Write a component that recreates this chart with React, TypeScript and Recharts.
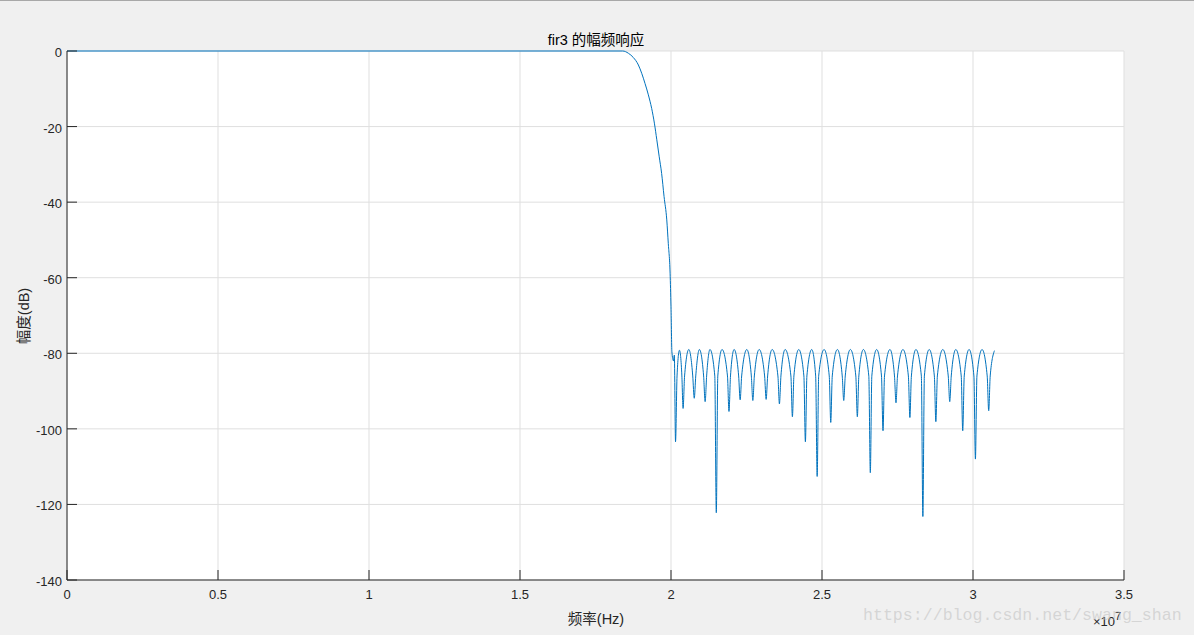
import { LineChart, Line, XAxis, YAxis, CartesianGrid } from "recharts";

// frequency (Hz) and magnitude (dB)
const freqHz = [
  0, 1.84e7, 1.859e7, 1.875e7, 1.892e7, 1.903e7, 1.914e7, 1.925e7, 1.936e7, 1.945e7,
  1.953e7, 1.961e7, 1.969e7, 1.977e7, 1.986e7, 1.991e7, 1.997e7, 2.0e7, 2.003e7,
  2.008e7, 2.011e7, 2.015e7, 2.02e7, 2.028e7, 2.036e7, 2.04e7, 2.045e7, 2.059e7,
  2.072e7, 2.077e7, 2.082e7, 2.094e7, 2.108e7, 2.113e7, 2.118e7, 2.129e7,
  2.145e7, 2.15e7, 2.155e7, 2.169e7, 2.187e7, 2.192e7, 2.197e7, 2.209e7,
  2.224e7, 2.229e7, 2.234e7, 2.251e7, 2.266e7, 2.271e7, 2.276e7, 2.292e7,
  2.31e7, 2.315e7, 2.32e7, 2.335e7, 2.354e7, 2.359e7, 2.364e7, 2.378e7,
  2.397e7, 2.402e7, 2.407e7, 2.423e7, 2.44e7, 2.445e7, 2.45e7, 2.466e7,
  2.479e7, 2.484e7, 2.489e7, 2.507e7, 2.524e7, 2.529e7, 2.534e7, 2.551e7,
  2.567e7, 2.572e7, 2.577e7, 2.594e7, 2.612e7, 2.617e7, 2.622e7, 2.637e7,
  2.655e7, 2.66e7, 2.665e7, 2.681e7, 2.697e7, 2.702e7, 2.707e7, 2.725e7,
  2.74e7, 2.745e7, 2.75e7, 2.768e7, 2.786e7, 2.791e7, 2.796e7, 2.811e7,
  2.829e7, 2.834e7, 2.839e7, 2.855e7, 2.872e7, 2.877e7, 2.882e7, 2.9e7,
  2.918e7, 2.923e7, 2.928e7, 2.943e7, 2.961e7, 2.966e7, 2.971e7, 2.987e7,
  3.003e7, 3.008e7, 3.013e7, 3.03e7, 3.047e7, 3.052e7, 3.057e7, 3.071e7,
];

const magDb = [
  0, 0, -0.6, -1.7, -3.7, -5.9, -8.6, -11.6, -15.2, -19.1,
  -23.5, -28.0, -32.4, -38.5, -44.7, -50.9, -58.8, -67.7, -79.6,
  -82, -80.5, -103.4, -86, -79.2, -86, -94.6, -86, -79,
  -86, -91.9, -86, -79, -86, -92.8, -86, -79,
  -86, -122.2, -86, -79, -86, -95.4, -86, -79,
  -86, -92.3, -86, -79, -86, -92.5, -86, -79,
  -86, -92.2, -86, -79, -86, -93.4, -86, -79,
  -86, -96.8, -86, -79, -86, -103.4, -86, -79,
  -86, -112.6, -86, -79, -86, -98.3, -86, -79,
  -86, -92.5, -86, -79, -86, -96.8, -86, -79,
  -86, -111.6, -86, -79, -86, -100.5, -86, -79,
  -86, -93.1, -86, -79, -86, -97.0, -86, -79,
  -86, -123.2, -86, -79, -86, -98.1, -86, -79,
  -86, -92.8, -86, -79, -86, -100.5, -86, -79,
  -86, -108, -86, -79, -86, -95.2, -86, -79.3,
];

const xTicks = [0, 0.5, 1, 1.5, 2, 2.5, 3, 3.5]; // x 10^7 Hz
const yTicks = [0, -20, -40, -60, -80, -100, -120, -140];

const data = freqHz.map((f, i) => ({ f, db: magDb[i] }));
const xTickHz = xTicks.map((t) => t * 1e7);

const ink = "#262626";
const tickFont = { fontFamily: "'Liberation Sans', Arial, sans-serif", fontSize: 13, fill: ink };
const cjk = "'Liberation Sans', 'Noto Sans CJK SC', sans-serif";

// ticks point inwards (negative tickSize), so labels are shifted back out
function BottomTick({ x, y, payload }: any) {
  return (
    <text x={x} y={y + 24.5} textAnchor="middle" {...tickFont}>
      {String(payload.value / 1e7)}
    </text>
  );
}

function LeftTick({ x, y, payload }: any) {
  return (
    <text x={x - 15} y={y + 6} textAnchor="end" {...tickFont}>
      {payload.value}
    </text>
  );
}

const noLabel = () => <g />;

export default function App() {
  return (
    <div
      style={{
        position: "absolute",
        left: 0,
        top: 0,
        width: 1194,
        height: 635,
        background: "#f0f0f0",
        borderTop: "1px solid #a8a8a8",
        boxSizing: "border-box",
        overflow: "hidden",
      }}
    >
      <div style={{ position: "absolute", left: 0, top: -1 }}>
        <LineChart width={1194} height={635} data={data} margin={{ top: 51, right: 70, bottom: 25, left: 7 }}>
          <CartesianGrid stroke="#dfdfdf" fill="#ffffff" />
          <XAxis
            dataKey="f"
            type="number"
            domain={[0, 3.5e7]}
            ticks={xTickHz}
            height={30}
            tickSize={-10}
            tickMargin={4}
            tickLine={{ stroke: ink }}
            axisLine={{ stroke: ink }}
            tick={<BottomTick />}
            interval={0}
          />
          <XAxis
            xAxisId="top"
            orientation="top"
            type="number"
            domain={[0, 3.5e7]}
            ticks={xTickHz}
            height={0}
            tickSize={-10}
            tickLine={{ stroke: ink }}
            axisLine={{ stroke: ink }}
            tick={noLabel}
            interval={0}
          />
          <YAxis
            type="number"
            domain={[-140, 0]}
            ticks={yTicks}
            width={60}
            tickSize={-10}
            tickMargin={0}
            tickLine={{ stroke: ink }}
            axisLine={{ stroke: ink }}
            tick={<LeftTick />}
            interval={0}
          />
          <YAxis
            yAxisId="right"
            orientation="right"
            type="number"
            domain={[-140, 0]}
            ticks={yTicks}
            width={0}
            tickSize={-10}
            tickLine={{ stroke: ink }}
            axisLine={{ stroke: ink }}
            tick={noLabel}
            interval={0}
          />
          <Line
            dataKey="db"
            type="monotone"
            stroke="#0072bd"
            strokeWidth={1}
            dot={false}
            activeDot={false}
            isAnimationActive={false}
          />
        </LineChart>
      </div>

      <div
        style={{
          position: "absolute",
          left: 596,
          top: 27,
          transform: "translateX(-50%)",
          fontFamily: cjk,
          fontSize: 14.5,
          color: "#000",
          whiteSpace: "nowrap",
        }}
      >
        fir3 的幅频响应
      </div>

      <div
        style={{
          position: "absolute",
          left: 596,
          top: 606,
          transform: "translateX(-50%)",
          fontFamily: cjk,
          fontSize: 14.5,
          color: ink,
          whiteSpace: "nowrap",
        }}
      >
        频率(Hz)
      </div>

      <div
        style={{
          position: "absolute",
          left: 22,
          top: 315,
          transform: "translate(-50%, -50%) rotate(-90deg)",
          fontFamily: cjk,
          fontSize: 14.5,
          color: ink,
          whiteSpace: "nowrap",
        }}
      >
        幅度(dB)
      </div>

      <div
        style={{
          position: "absolute",
          left: 1093,
          top: 610,
          fontFamily: "'Liberation Sans', Arial, sans-serif",
          fontSize: 13,
          color: ink,
          whiteSpace: "nowrap",
        }}
      >
        ×10<sup style={{ fontSize: 11, position: "relative", top: -1 }}>7</sup>
      </div>

      <div
        style={{
          position: "absolute",
          left: 863,
          top: 605,
          fontFamily: "'Liberation Mono', 'DejaVu Sans Mono', monospace",
          fontSize: 16.6,
          color: "rgba(190,190,190,0.55)",
          whiteSpace: "nowrap",
        }}
      >
        https://blog.csdn.net/swang_shan
      </div>
    </div>
  );
}
